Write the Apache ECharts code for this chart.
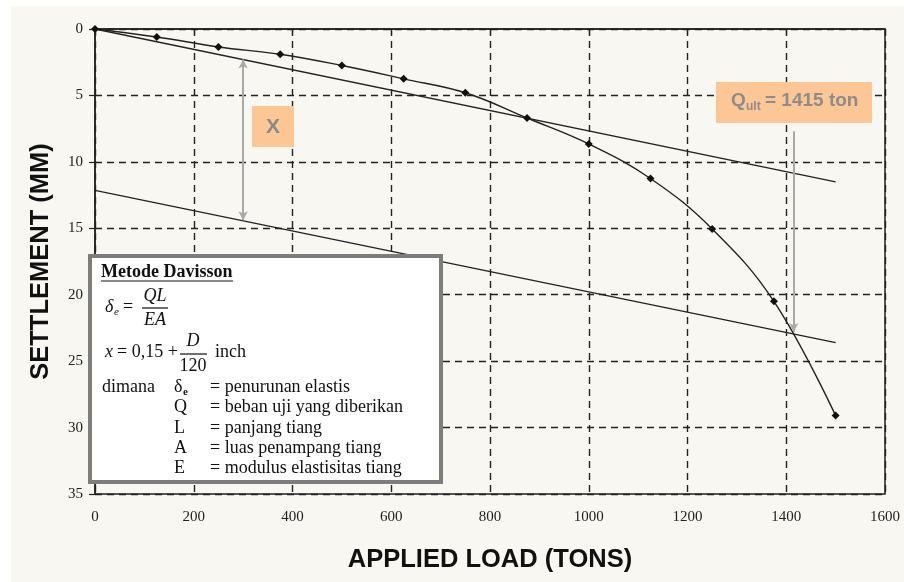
<!DOCTYPE html>
<html>
<head>
<meta charset="utf-8">
<script src="https://cdn.jsdelivr.net/npm/echarts@6/dist/echarts.min.js"></script>
<style>
html,body{margin:0;padding:0;background:#fff;}
#bg{position:absolute;left:11px;top:6px;width:893px;height:576px;background:#f8f7f2;}
#main{position:absolute;left:0;top:0;width:904px;height:582px;}
</style>
</head>
<body>
<div id="bg"></div>
<div id="main"></div>
<script>
// load test data (tons vs mm)
var load = [0, 125, 250, 375, 500, 625, 750, 875, 1000, 1125, 1250, 1375, 1500];
var settlement = [0, 0.6, 1.35, 1.9, 2.75, 3.75, 4.8, 6.7, 8.65, 11.25, 15.05, 20.5, 29.1];

// Davisson lines
var lineLoad = [0, 1500];
var elasticLine = [0, 11.5];
var offsetLine = [12.15, 23.6];

// annotations
var xArrow = [300, 2.3, 14.4];      // load, from, to
var qultArrow = [1415, 7.7, 22.8];  // load, from, to

var serif = '"Liberation Serif", "DejaVu Serif", serif';
var sans = '"Liberation Sans", Arial, sans-serif';

function pairs(xs, ys) {
  var out = [];
  for (var i = 0; i < xs.length; i++) out.push([xs[i], ys[i]]);
  return out;
}

function txt(x, y, s, font, align) {
  return {
    type: 'text', x: x, y: y, z: 101,
    style: { text: s, font: font, fill: '#111', align: align || 'left', verticalAlign: 'middle' }
  };
}
function bar(x1, x2, y) {
  return {
    type: 'line', z: 101,
    shape: { x1: x1, y1: y, x2: x2, y2: y },
    style: { stroke: '#111', lineWidth: 1.2 }
  };
}

var f18 = '18px ' + serif;
var i18 = 'italic 18px ' + serif;

var chartDom = document.getElementById('main');
var myChart = echarts.init(chartDom);
var option;

option = {
  backgroundColor: 'transparent',
  animation: false,
  grid: {
    left: 95, top: 29, right: 19, bottom: 88,
    show: true, borderColor: '#222', borderWidth: 1.5, backgroundColor: 'transparent'
  },
  xAxis: {
    type: 'value', min: 0, max: 1600, interval: 200,
    name: 'APPLIED LOAD (TONS)', nameLocation: 'middle', nameGap: 53,
    nameTextStyle: { fontFamily: sans, fontWeight: 'bold', fontSize: 25.5, color: '#111' },
    axisLine: { lineStyle: { color: '#222', width: 1.5 } },
    axisTick: { show: true, length: 6, lineStyle: { color: '#222', width: 1.2 } },
    axisLabel: { fontFamily: serif, fontSize: 15, color: '#222', margin: 16, formatter: function (v) { return String(v); } },
    splitLine: { show: true, lineStyle: { color: '#222', width: 1.4, type: [7, 5] } }
  },
  yAxis: {
    type: 'value', min: 0, max: 35, interval: 5, inverse: true,
    name: 'SETTLEMENT (MM)', nameLocation: 'middle', nameGap: 41, nameRotate: 90,
    nameTextStyle: { fontFamily: sans, fontWeight: 'bold', fontSize: 25.5, color: '#111' },
    axisLine: { lineStyle: { color: '#222', width: 1.5 } },
    axisTick: { show: true, length: 6, lineStyle: { color: '#222', width: 1.2 } },
    axisLabel: { fontFamily: serif, fontSize: 15, color: '#222', margin: 12 },
    splitLine: { show: true, lineStyle: { color: '#222', width: 1.4, type: [7, 5] } }
  },
  series: [
    {
      name: 'settlement', type: 'line', smooth: 0.4,
      data: pairs(load, settlement),
      symbol: 'diamond', symbolSize: 8,
      itemStyle: { color: '#111' },
      lineStyle: { color: '#222', width: 1.4 },
      z: 5
    },
    {
      name: 'elastic', type: 'line', data: pairs(lineLoad, elasticLine),
      symbol: 'none', lineStyle: { color: '#222', width: 1.3 },
      markLine: {
        silent: true, animation: false,
        label: { show: false },
        data: [
          [
            { coord: [xArrow[0], xArrow[1]], symbol: 'arrow', symbolSize: [7, 9] },
            { coord: [xArrow[0], xArrow[2]], symbol: 'arrow', symbolSize: [7, 9] }
          ],
          [
            { coord: [qultArrow[0], qultArrow[1]], symbol: 'none' },
            { coord: [qultArrow[0], qultArrow[2]], symbol: 'arrow', symbolSize: [7, 9] }
          ]
        ],
        lineStyle: { color: '#a9a9a9', width: 2, type: 'solid' }
      }
    },
    {
      name: 'offset', type: 'line', data: pairs(lineLoad, offsetLine),
      symbol: 'none', lineStyle: { color: '#222', width: 1.3 }
    }
  ],
  graphic: [
    // X label
    { type: 'rect', z: 100, shape: { x: 252, y: 106, width: 42, height: 41 }, style: { fill: '#fdc795' } },
    { type: 'text', z: 101, x: 273, y: 127, style: { text: 'X', font: 'bold 21px ' + sans, fill: '#8a8a8a', align: 'center', verticalAlign: 'middle' } },
    // Qult label
    { type: 'rect', z: 100, shape: { x: 716, y: 82, width: 156, height: 41 }, style: { fill: '#fdc795' } },
    { type: 'text', z: 101, x: 731, y: 101, style: { text: 'Q', font: 'bold 19px ' + sans, fill: '#8c8c8c', align: 'left', verticalAlign: 'middle' } },
    { type: 'text', z: 101, x: 746, y: 107, style: { text: 'ult', font: 'bold 12px ' + sans, fill: '#8c8c8c', align: 'left', verticalAlign: 'middle' } },
    { type: 'text', z: 101, x: 765, y: 101, style: { text: '= 1415 ton', font: 'bold 19px ' + sans, fill: '#8c8c8c', align: 'left', verticalAlign: 'middle' } },
    // Davisson box
    { type: 'rect', z: 100, shape: { x: 90, y: 256, width: 351, height: 226 }, style: { fill: '#fff', stroke: '#7d7d7d', lineWidth: 4 } },
    txt(101, 272, 'Metode Davisson', 'bold 18px ' + serif),
    bar(101, 233, 281),
    txt(105, 307, 'δ', i18),
    txt(114, 312, 'e', 'italic 11px ' + serif),
    txt(123, 307, '=', f18),
    txt(155, 296, 'QL', i18, 'center'),
    bar(142, 168, 308),
    txt(155, 320, 'EA', i18, 'center'),
    txt(105, 352, 'x', i18),
    txt(117, 352, '= 0,15 +', f18),
    txt(193, 341, 'D', i18, 'center'),
    bar(180, 207, 354),
    txt(193, 366, '120', f18, 'center'),
    txt(215, 352, 'inch', f18),
    txt(102, 387, 'dimana', f18),
    txt(174, 387, 'δ', f18),
    txt(183, 392, 'e', 'bold 11px ' + serif),
    txt(210, 387, '= penurunan elastis', f18),
    txt(174, 407, 'Q', f18),
    txt(210, 407, '= beban uji yang diberikan', f18),
    txt(174, 428, 'L', f18),
    txt(210, 428, '= panjang tiang', f18),
    txt(174, 448, 'A', f18),
    txt(210, 448, '= luas penampang tiang', f18),
    txt(174, 468, 'E', f18),
    txt(210, 468, '= modulus elastisitas tiang', f18)
  ]
};

option && myChart.setOption(option);
</script>
</body>
</html>
